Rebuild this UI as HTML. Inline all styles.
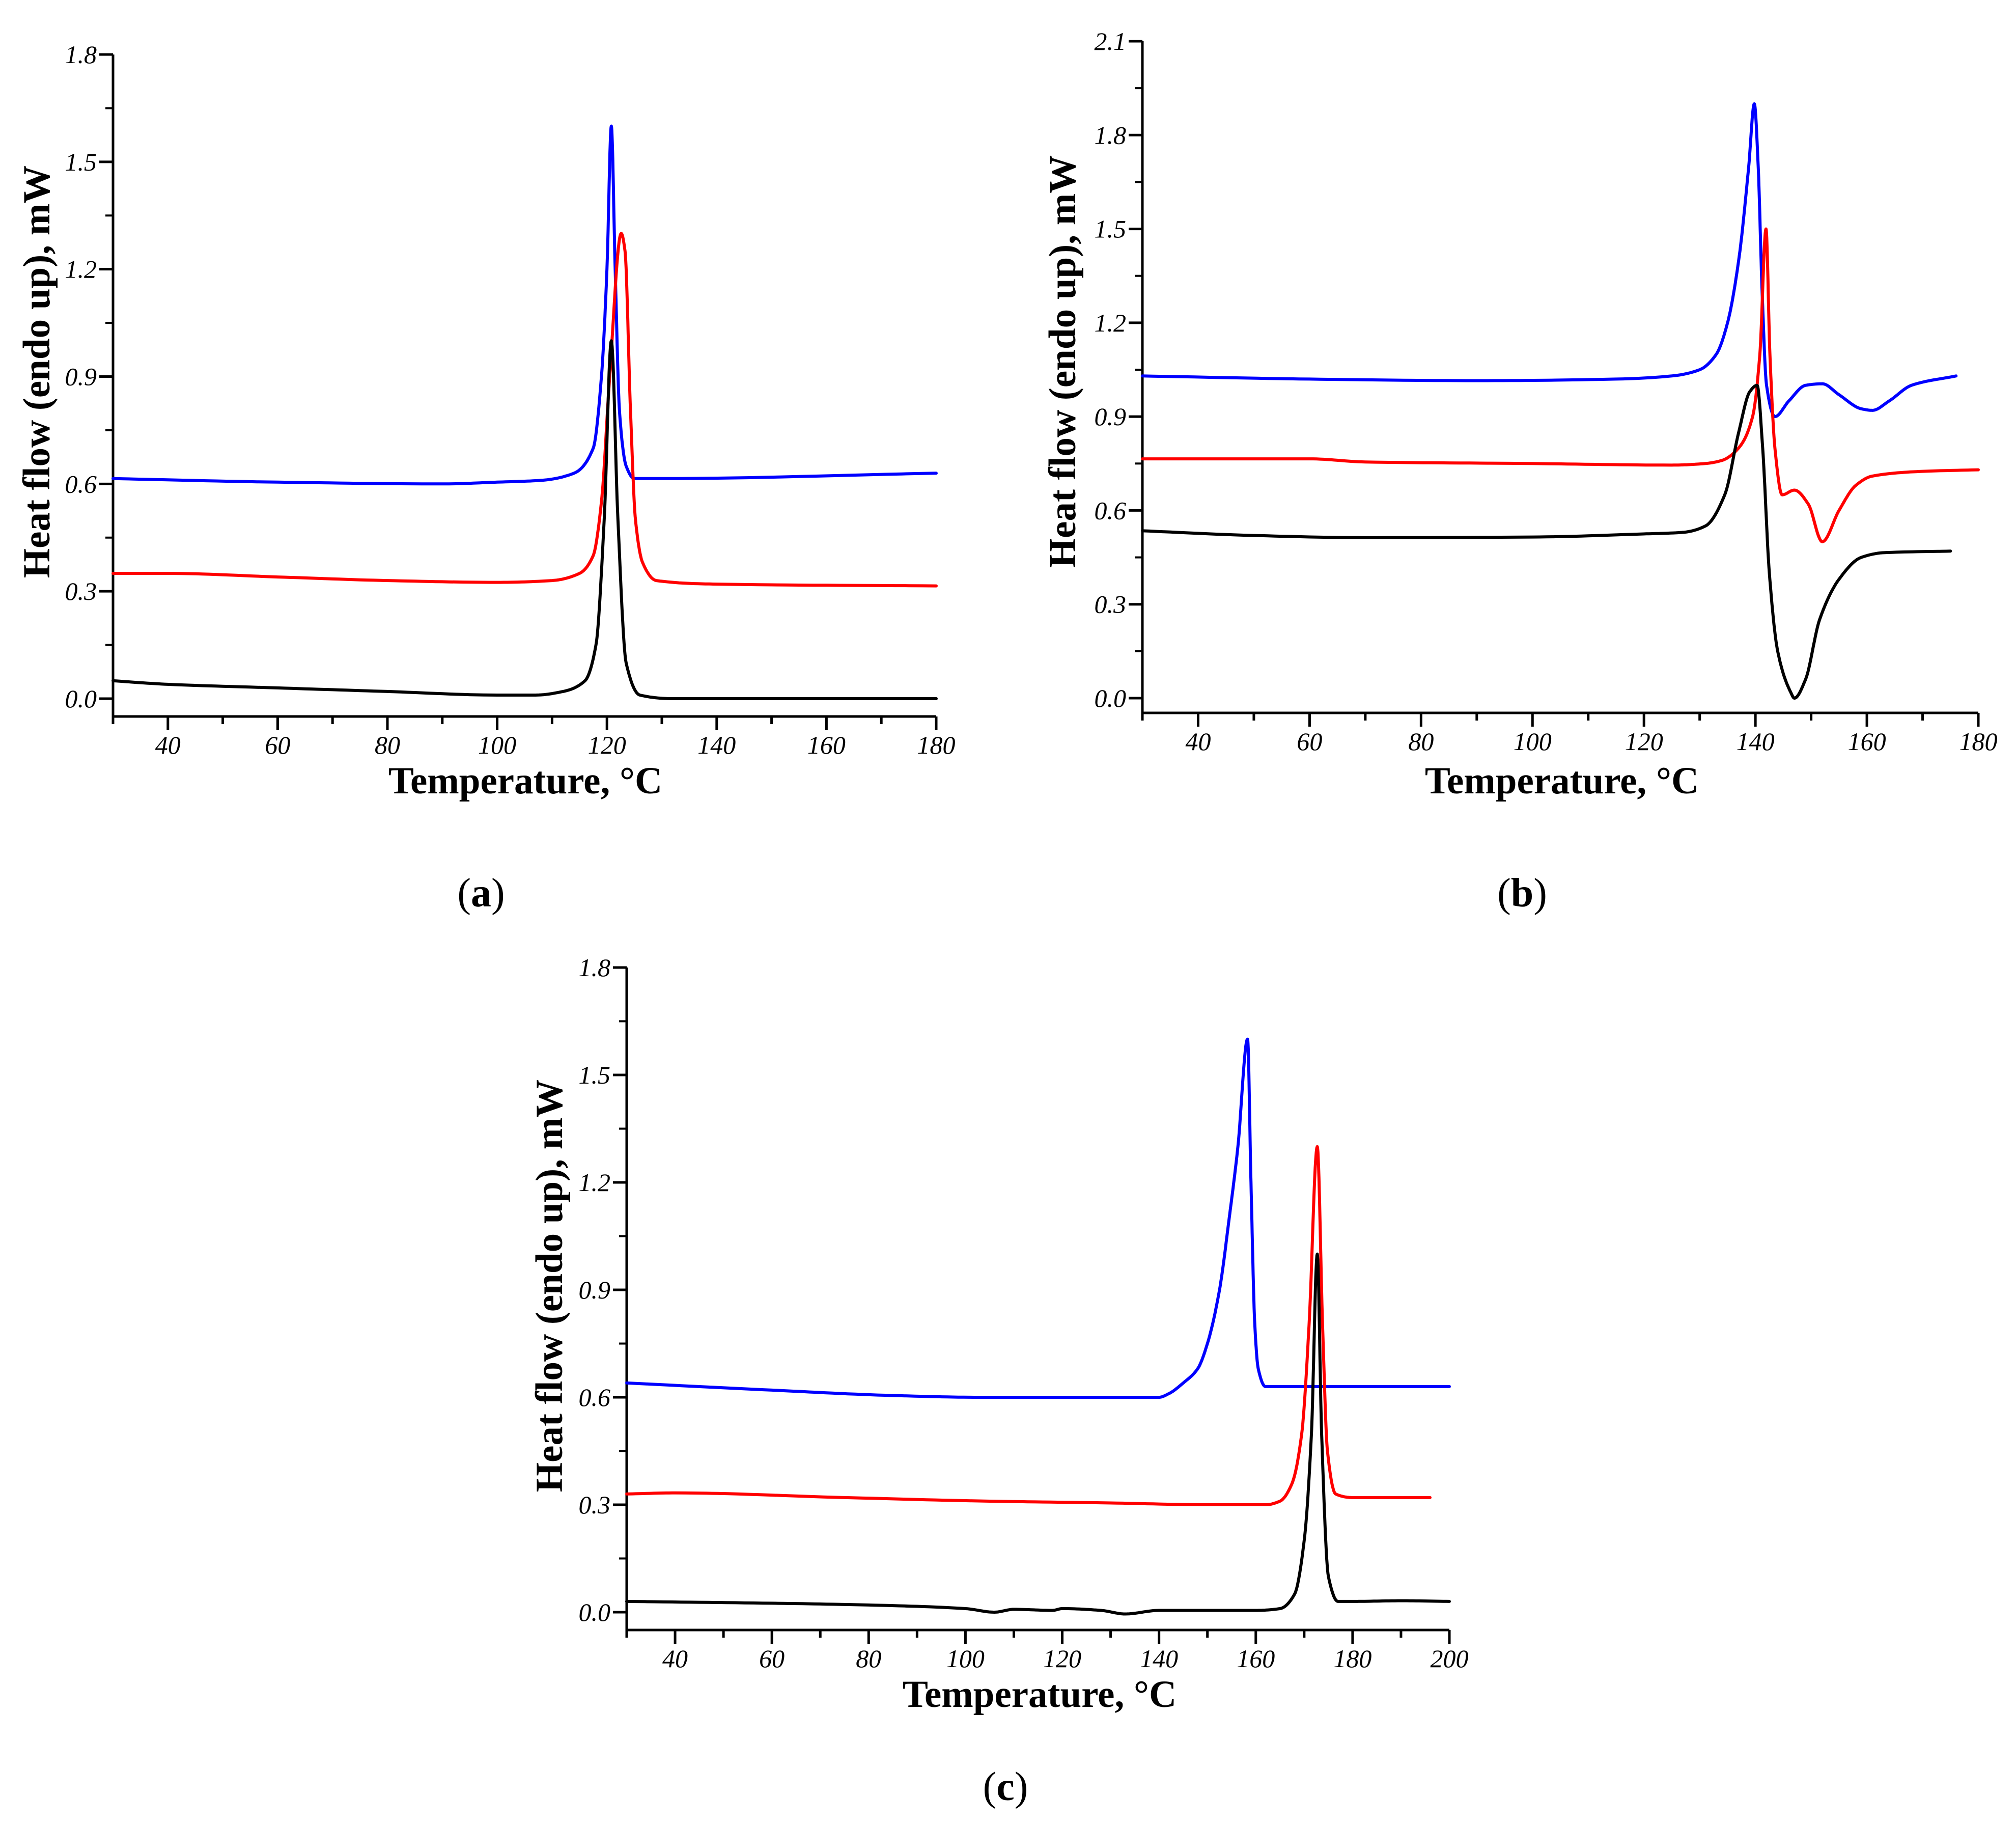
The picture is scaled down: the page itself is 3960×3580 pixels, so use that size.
<!DOCTYPE html>
<html><head><meta charset="utf-8"><style>
html,body{margin:0;padding:0;background:#fff}
svg{display:block}
text{font-family:"Liberation Serif",serif}
.tick{font-style:italic;font-size:50px}
.title{font-weight:bold;font-size:75px}
.plab{font-size:80px}
</style></head><body>
<svg id="fig" width="3960" height="3580" viewBox="0 0 3960 3580" xmlns="http://www.w3.org/2000/svg"></svg>
<script>
// Panel a data
const aBlackT=[30,40,60,80,100,107,112,116,118,119.5,120.8,122,123.5,126,132,180];
const aBlackV=[0.05,0.04,0.03,0.02,0.01,0.01,0.02,0.05,0.15,0.5,1.0,0.5,0.1,0.01,0.0,0.0];
const aBlueT=[30,60,90,100,108,114,117.5,119,120,120.8,121.5,122.3,123.5,125,130,180];
const aBlueV=[0.615,0.605,0.6,0.605,0.61,0.63,0.7,0.9,1.2,1.6,1.2,0.8,0.65,0.615,0.615,0.63];
const aRedT=[30,40,60,80,100,110,115,117.5,119,120.5,122.6,123.3,124.3,125.2,126.5,129,140,180];
const aRedV=[0.35,0.35,0.34,0.33,0.325,0.33,0.35,0.4,0.55,0.9,1.3,1.25,0.8,0.5,0.38,0.33,0.32,0.315];
// Panel b data
const bBlueT=[30,60,90,115,125,130,133,135,137,138.8,139.8,140.5,141.2,142,143.5,146,149,152,155,159,161,164,168,176];
const bBlueV=[1.03,1.02,1.015,1.02,1.03,1.05,1.1,1.2,1.4,1.7,1.9,1.7,1.3,1.0,0.9,0.95,1.0,1.005,0.97,0.925,0.92,0.95,1.0,1.03];
const bRedT=[30,60,70,100,125,131,134,137,139.5,140.8,141.9,142.6,143.5,144.8,147,149.5,152,155,158,161,170,180];
const bRedV=[0.765,0.765,0.755,0.75,0.745,0.75,0.76,0.8,0.9,1.1,1.5,1.1,0.8,0.65,0.665,0.62,0.5,0.6,0.68,0.71,0.725,0.73];
const bBlackT=[30,50,70,100,120,127,131,134.5,137,139,140.3,141.3,142.5,144,146.3,147,149,151.5,155,159,163,175];
const bBlackV=[0.535,0.52,0.513,0.515,0.525,0.53,0.55,0.65,0.85,0.98,1.0,0.8,0.4,0.15,0.02,0.0,0.06,0.25,0.38,0.45,0.465,0.47];
// Panel c data
const cBlueT=[30,60,85,103,140,142,145,148,150,152.5,154.5,156.3,158.3,159,159.8,160.5,162,200];
const cBlueV=[0.64,0.62,0.605,0.6,0.6,0.61,0.64,0.68,0.75,0.9,1.1,1.3,1.6,1.2,0.8,0.68,0.63,0.63];
const cRedT=[30,40,75,105,130,150,162,165,167.5,169.5,171,172.7,173.8,174.8,176.5,180,196];
const cRedV=[0.33,0.333,0.32,0.31,0.305,0.3,0.3,0.31,0.36,0.5,0.8,1.3,0.8,0.45,0.33,0.32,0.32];
const cBlackT=[30,60,80,100,106,110,118,120,128,133,140,160,165,168,170,171.5,172.7,173.6,175,177,180,190,200];
const cBlackV=[0.03,0.025,0.02,0.01,0.0,0.008,0.005,0.01,0.005,-0.005,0.005,0.005,0.01,0.05,0.2,0.5,1.0,0.5,0.1,0.03,0.03,0.032,0.03];
const aXTicks=[40,60,80,100,120,140,160,180];
const bXTicks=[40,60,80,100,120,140,160,180];
const cXTicks=[40,60,80,100,120,140,160,180,200];
const abYTicksA=["0.0","0.3","0.6","0.9","1.2","1.5","1.8"];
const bYTicks=["0.0","0.3","0.6","0.9","1.2","1.5","1.8","2.1"];

const NS="http://www.w3.org/2000/svg";
const svg=document.getElementById('fig');
function mk(tag,attrs,parent){const e=document.createElementNS(NS,tag);for(const k in attrs)e.setAttribute(k,attrs[k]);(parent||svg).appendChild(e);return e;}

// monotone cubic (Fritsch-Carlson) sampling
function monotone(xs,ys){
  const n=xs.length, d=[], m=new Array(n);
  for(let i=0;i<n-1;i++)d.push((ys[i+1]-ys[i])/(xs[i+1]-xs[i]));
  m[0]=d[0]; m[n-1]=d[n-2];
  for(let i=1;i<n-1;i++){ if(d[i-1]*d[i]<=0)m[i]=0; else { const h0=xs[i]-xs[i-1],h1=xs[i+1]-xs[i]; m[i]=3*(h0+h1)/((2*h1+h0)/d[i-1]+(h1+2*h0)/d[i]); } }
  const out=[];
  for(let i=0;i<n-1;i++){
    const h=xs[i+1]-xs[i];
    for(let k=0;k<16;k++){
      const s=k/16, s2=s*s, s3=s2*s;
      const y=(2*s3-3*s2+1)*ys[i]+(s3-2*s2+s)*h*m[i]+(-2*s3+3*s2)*ys[i+1]+(s3-s2)*h*m[i+1];
      out.push([xs[i]+s*h,y]);
    }
  }
  out.push([xs[n-1],ys[n-1]]);
  return out;
}

function panel(cfg){
  const g=mk('g',{});
  
  
  const X=t=>cfg.x0+(t-cfg.t0)*(cfg.x1-cfg.x0)/(cfg.t1-cfg.t0);
  const Y=v=>cfg.y0-(v-cfg.v0)*(cfg.y0-cfg.y1)/(cfg.v1-cfg.v0);
  const ax=mk('path',{d:`M${cfg.x0},${Y(cfg.v1)} V${cfg.ybot} H${cfg.x1}`,fill:'none',stroke:'#000','stroke-width':5},g);
  
  
  for(let t=cfg.t0;t<=cfg.t1+0.01;t+=10){
    const major=cfg.xt.includes(t);
    const len=major?27:15;
    mk('line',{x1:X(t),x2:X(t),y1:cfg.ybot,y2:cfg.ybot+len,stroke:'#000','stroke-width':5},g);
  }
  cfg.xt.forEach(t=>{
    const tx=mk('text',{x:X(t),y:cfg.ybot+73,'text-anchor':'middle',class:'tick'},g);
    tx.textContent=t;
    
    
  });
  const nMaj=cfg.yt.length;
  for(let i=0;i<nMaj;i++){
    const v=parseFloat(cfg.yt[i]);
    mk('line',{x1:cfg.x0-27,x2:cfg.x0,y1:Y(v),y2:Y(v),stroke:'#000','stroke-width':5},g);
    if(i<nMaj-1){const vm=v+0.15;mk('line',{x1:cfg.x0-15,x2:cfg.x0,y1:Y(vm),y2:Y(vm),stroke:'#000','stroke-width':4},g);}
    const tx=mk('text',{x:cfg.x0-32,y:Y(v)+17,'text-anchor':'end',class:'tick'},g);
    tx.textContent=cfg.yt[i];
    
    
  }
  cfg.series.forEach(s=>{
    const pts=monotone(s.t,s.v);
    const d=pts.map((p,i)=>(i?'L':'M')+X(p[0]).toFixed(1)+','+Y(p[1]).toFixed(1)).join(' ');
    const p=mk('path',{d:d,fill:'none',stroke:s.c,'stroke-width':6,'stroke-linejoin':'round','stroke-linecap':'round'},g);
    
    
  });
  const xt=mk('text',{x:cfg.xtx,y:cfg.xty,'text-anchor':'middle',class:'title'},g);
  xt.textContent='Temperature, °C';
  
  
  const yt=mk('text',{x:0,y:0,'text-anchor':'middle',class:'title',transform:`translate(${cfg.ytx},${cfg.yty}) rotate(-90)`},g);
  yt.textContent='Heat flow (endo up), mW';
  
  
  const pl=mk('text',{x:cfg.plx,y:cfg.ply,'text-anchor':'middle',class:'plab'},g);
  pl.innerHTML='(<tspan font-weight="bold">'+cfg.id+'</tspan>)';
  
  
}

panel({id:'a',x0:222,x1:1839,t0:30,t1:180,y0:1372,y1:107,v0:0,v1:1.8,ybot:1407,xt:aXTicks,yt:abYTicksA,
  xtx:1032,xty:1558,ytx:97,yty:730,plx:945,ply:1780,
  series:[{t:aBlueT,v:aBlueV,c:'#0000ff',name:'a-blue-curve'},{t:aRedT,v:aRedV,c:'#ff0000',name:'a-red-curve'},{t:aBlackT,v:aBlackV,c:'#000000',name:'a-black-curve'}]});
panel({id:'b',x0:2244,x1:3886,t0:30,t1:180,y0:1371,y1:81,v0:0,v1:2.1,ybot:1400,xt:bXTicks,yt:bYTicks,
  xtx:3068,xty:1558,ytx:2112,yty:710,plx:2990,ply:1780,
  series:[{t:bBlueT,v:bBlueV,c:'#0000ff',name:'b-blue-curve'},{t:bRedT,v:bRedV,c:'#ff0000',name:'b-red-curve'},{t:bBlackT,v:bBlackV,c:'#000000',name:'b-black-curve'}]});
panel({id:'c',x0:1231,x1:2847,t0:30,t1:200,y0:3166,y1:1900,v0:0,v1:1.8,ybot:3201,xt:cXTicks,yt:abYTicksA,
  xtx:2042,xty:3352,ytx:1104,yty:2525,plx:1975,ply:3535,
  series:[{t:cBlueT,v:cBlueV,c:'#0000ff',name:'c-blue-curve'},{t:cRedT,v:cRedV,c:'#ff0000',name:'c-red-curve'},{t:cBlackT,v:cBlackV,c:'#000000',name:'c-black-curve'}]});
</script>
</body></html>
